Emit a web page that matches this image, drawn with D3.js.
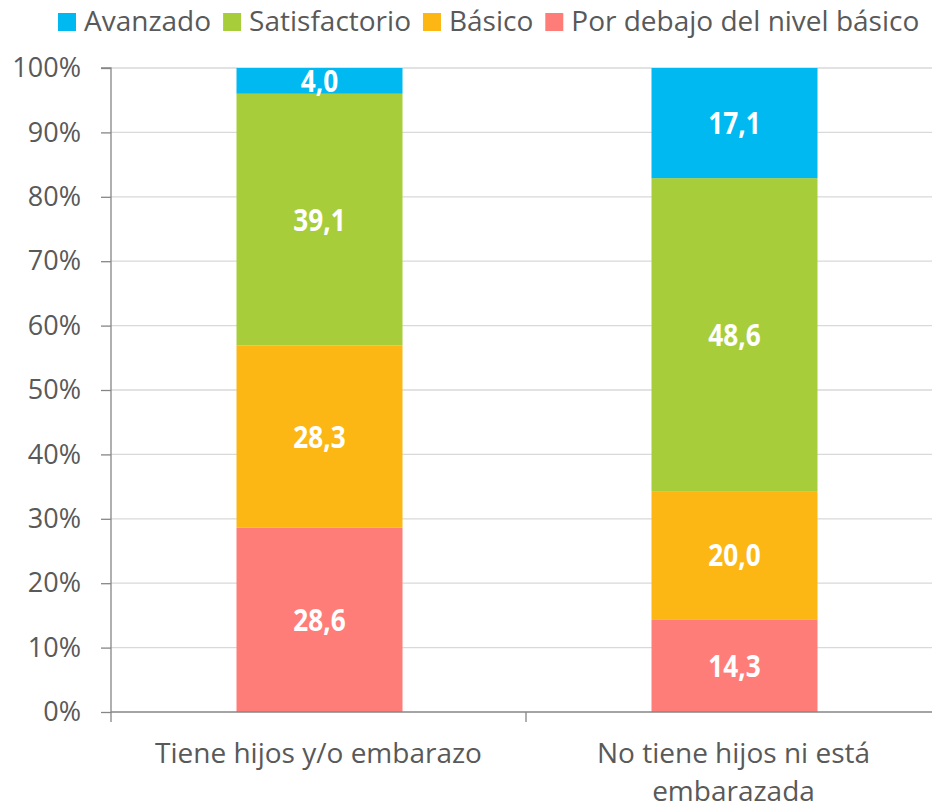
<!DOCTYPE html>
<html>
<head>
<meta charset="utf-8">
<script src="https://cdn.jsdelivr.net/npm/d3@7"></script>
<style>
  html, body { margin: 0; padding: 0; background: #fff; }
  svg { display: block; }
</style>
</head>
<body>
<svg id="chart" width="932" height="804"></svg>
<script>
// Categories (x axis) and series, stacked bottom to top
const categories = ["Tiene hijos y/o embarazo", "No tiene hijos ni está embarazada"];
const categoryLines = [["Tiene hijos y/o embarazo"], ["No tiene hijos ni está", "embarazada"]];
const seriesNames = ["Por debajo del nivel básico", "Básico", "Satisfactorio", "Avanzado"];
const porDebajo = [28.6, 14.3];
const basico = [28.3, 20.0];
const satisfactorio = [39.1, 48.6];
const avanzado = [4.0, 17.1];
const yTicks = [0, 10, 20, 30, 40, 50, 60, 70, 80, 90, 100];
const legendOrder = ["Avanzado", "Satisfactorio", "Básico", "Por debajo del nivel básico"];
const colors = {
  "Avanzado": "#00B9F1",
  "Satisfactorio": "#A8CD3A",
  "Básico": "#FCB715",
  "Por debajo del nivel básico": "#FF7D78"
};

const seriesValues = [porDebajo, basico, satisfactorio, avanzado];
const rows = categories.map((c, i) => {
  const r = { category: c };
  seriesNames.forEach((s, k) => r[s] = seriesValues[k][i]);
  return r;
});

const svg = d3.select("#chart");
const margin = { left: 111, top: 68, bottom: 92 };
const plotW = 830;
const plotH = 804 - margin.top - margin.bottom;

const x = d3.scaleBand().domain(categories).range([margin.left, margin.left + plotW]);
const y = d3.scaleLinear().domain([0, 100]).range([margin.top + plotH, margin.top]);

const textFont = "'Open Sans', 'Liberation Sans', sans-serif";
const textColor = "#595959";
const axisColor = "#868686";

// Gridlines
svg.append("g")
  .selectAll("line")
  .data(yTicks.filter(t => t > 0))
  .join("line")
  .attr("x1", margin.left).attr("x2", margin.left + plotW)
  .attr("y1", d => y(d)).attr("y2", d => y(d))
  .attr("stroke", "#D9D9D9").attr("stroke-width", 1.3);

// Stacked bars
const stack = d3.stack().keys(seriesNames)(rows);
const barW = x.bandwidth() * 0.4;
const barX = d => x(d.data.category) + (x.bandwidth() - barW) / 2 + 1;
const layer = svg.append("g").selectAll("g").data(stack).join("g")
  .attr("fill", d => colors[d.key]);
layer.selectAll("rect")
  .data(d => d)
  .join("rect")
  .attr("x", barX)
  .attr("width", barW)
  .attr("y", d => y(d[1]))
  .attr("height", d => y(d[0]) - y(d[1]));

// Value labels, condensed bold white
layer.selectAll("text")
  .data(d => d)
  .join("text")
  .attr("transform", d => `translate(${barX(d) + barW / 2},${(y(d[0]) + y(d[1])) / 2}) scale(0.86,1)`)
  .attr("dy", "0.36em")
  .attr("text-anchor", "middle")
  .attr("fill", "#fff")
  .attr("font-family", textFont)
  .attr("font-weight", 700)
  .attr("font-size", 30.5)
  .text(d => d3.format(".1f")(d[1] - d[0]).replace(".", ","));

// Y axis
const yAxis = d3.axisLeft(y).tickValues(yTicks).tickSize(10).tickPadding(20).tickFormat(d => d + "%");
const gy = svg.append("g").attr("transform", `translate(${margin.left},0)`).call(yAxis);
gy.select(".domain").attr("stroke", axisColor).attr("stroke-width", 1.3).attr("d", `M-10,${y(100)}H0V${y(0)}`);
gy.selectAll(".tick line").attr("stroke", axisColor).attr("stroke-width", 1.3);
gy.selectAll(".tick text").attr("fill", textColor).attr("font-family", textFont).attr("font-size", 27);

// X axis
const xAxis = d3.axisBottom(x).tickValues([]).tickSize(0);
const gx = svg.append("g").attr("transform", `translate(0,${y(0)})`).call(xAxis);
gx.select(".domain").attr("stroke", axisColor).attr("stroke-width", 1.3).attr("d", `M${margin.left},0H${margin.left + plotW}`);
// Category separators
svg.append("g").selectAll("line")
  .data(categories.map(c => x(c)).concat([margin.left + plotW]))
  .join("line")
  .attr("x1", d => d).attr("x2", d => d)
  .attr("y1", y(0)).attr("y2", y(0) + 10)
  .attr("stroke", axisColor).attr("stroke-width", 1.3);

// Category labels
const catG = svg.append("g").selectAll("text").data(categories).join("text")
  .attr("y", y(0) + 51)
  .attr("text-anchor", "middle")
  .attr("fill", textColor)
  .attr("font-family", textFont)
  .attr("font-size", 28);
catG.each(function(d, i) {
  d3.select(this).selectAll("tspan").data(categoryLines[i]).join("tspan")
    .attr("x", x(d) + x.bandwidth() / 2)
    .attr("dy", (t, j) => j === 0 ? 0 : 38)
    .text(t => t);
});

// Legend
const legend = svg.append("g").attr("transform", "translate(58,0)");
let lx = 0;
legendOrder.forEach(name => {
  const g = legend.append("g").attr("transform", `translate(${lx},0)`);
  g.append("rect").attr("x", 0).attr("y", 13).attr("width", 18).attr("height", 18).attr("fill", colors[name]);
  const t = g.append("text").attr("x", 26).attr("y", 31)
    .attr("fill", textColor).attr("font-family", textFont).attr("font-size", 28).text(name);
  lx += 26 + t.node().getComputedTextLength() + 12;
});
</script>
</body>
</html>
